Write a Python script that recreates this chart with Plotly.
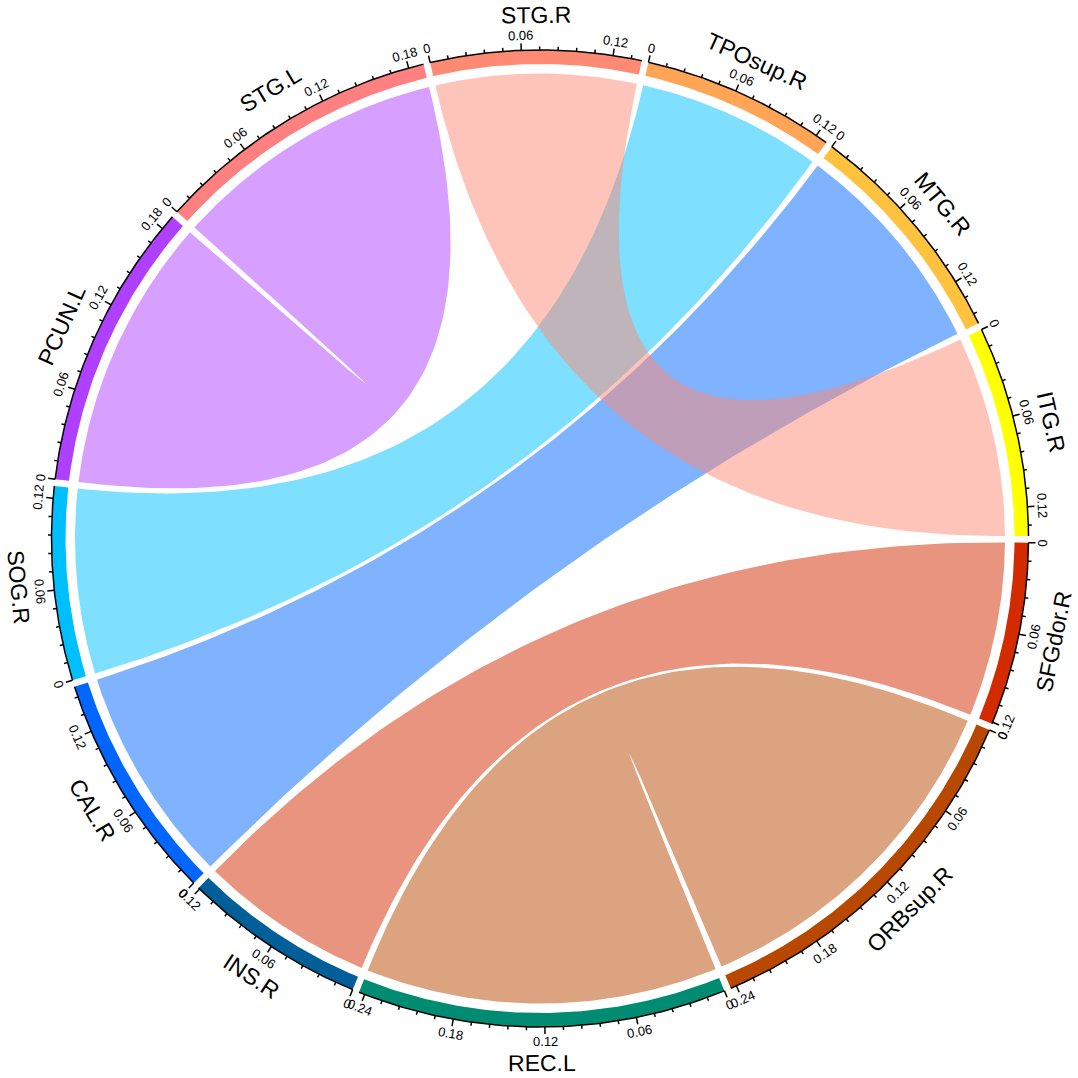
import numpy as np
import plotly.graph_objects as go

# sectors in clockwise order, starting at the top
SECTORS = ["STG.R", "TPOsup.R", "MTG.R", "ITG.R", "SFGdor.R", "ORBsup.R",
           "REC.L", "INS.R", "CAL.R", "SOG.R", "PCUN.L", "STG.L"]
SECTOR_COLORS = ["#FF8A73", "#FFA555", "#FFC23F", "#FFFF00", "#D42A00", "#B84800",
                 "#008C72", "#005F99", "#0066FF", "#00BFFF", "#B040FF", "#FF8080"]

# links, in drawing order
LINK_FROM = ["PCUN.L", "SOG.R", "CAL.R", "SFGdor.R", "ORBsup.R", "STG.R"]
LINK_TO = ["STG.L", "TPOsup.R", "MTG.R", "INS.R", "REC.L", "ITG.R"]
LINK_VALUES = [0.19, 0.128, 0.151, 0.121, 0.244, 0.139]

TICK_VALUES = [0, 0.06, 0.12, 0.18, 0.24]
TICK_LABELS = ["0", "0.06", "0.12", "0.18", "0.24"]
MINOR_STEP = 0.012

W = H = 1078
CX, CY = 540, 538.5
GAP_DEG = 0.8
START_DEG = -13.0
R_AXIS = 488.5
R_BAND_IN = 474.5
R_LINK = 465
R_TICKLAB = 503
R_NAME = 524
FONT = "Liberation Sans, Arial, sans-serif"


def xy(theta, r):
    t = np.radians(theta)
    return r * np.sin(t), r * np.cos(t)


def arc(t0, t1, r, n=80):
    th = np.linspace(t0, t1, n)
    return xy(th, r)


def bezier(t0, t1, r, n=80):
    # quadratic curve with its control point in the centre
    x0, y0 = xy(t0, r)
    x1, y1 = xy(t1, r)
    s = np.linspace(0, 1, n)
    return (1 - s) ** 2 * x0 + s ** 2 * x1, (1 - s) ** 2 * y0 + s ** 2 * y1


def rgba(hexcol, a):
    h = hexcol.lstrip("#")
    return "rgba(%d,%d,%d,%s)" % (int(h[0:2], 16), int(h[2:4], 16), int(h[4:6], 16), a)


def facing(theta):
    t = theta % 360
    if 90 < t < 270:
        return t - 180
    return t - 360 if t >= 270 else t


totals = {s: 0.0 for s in SECTORS}
for f, t, v in zip(LINK_FROM, LINK_TO, LINK_VALUES):
    totals[f] += v
    totals[t] += v

deg_per_unit = (360 - GAP_DEG * len(SECTORS)) / sum(totals.values())
ranges = {}
pos = START_DEG
for s in SECTORS:
    span = totals[s] * deg_per_unit
    ranges[s] = (pos, pos + span)
    pos += span + GAP_DEG

fig = go.Figure()

# sector bands
for s, col in zip(SECTORS, SECTOR_COLORS):
    a0, a1 = ranges[s]
    xo, yo = arc(a0, a1, R_AXIS)
    xi, yi = arc(a1, a0, R_BAND_IN)
    fig.add_trace(go.Scatter(x=np.r_[xo, xi], y=np.r_[yo, yi], mode="lines", fill="toself",
                             fillcolor=col, line=dict(width=0), hoverinfo="skip"))

# links
color_of = dict(zip(SECTORS, SECTOR_COLORS))
for f, t, v in zip(LINK_FROM, LINK_TO, LINK_VALUES):
    a0, a1 = ranges[f]
    b0, b1 = ranges[t]
    parts = [arc(a0, a1, R_LINK), bezier(a1, b0, R_LINK), arc(b0, b1, R_LINK), bezier(b1, a0, R_LINK)]
    xs = np.concatenate([p[0] for p in parts])
    ys = np.concatenate([p[1] for p in parts])
    fig.add_trace(go.Scatter(x=xs, y=ys, mode="lines", fill="toself",
                             fillcolor=rgba(color_of[f], 0.5), line=dict(width=0), hoverinfo="skip"))

# axes with ticks
ax_x, ax_y = [], []
annotations = []
for s in SECTORS:
    a0, a1 = ranges[s]
    x, y = arc(a0, a1, R_AXIS)
    ax_x += list(x) + [None]
    ax_y += list(y) + [None]
    n_minor = int(np.floor(totals[s] / MINOR_STEP + 1e-9))
    for k in range(n_minor + 1):
        th = a0 + k * MINOR_STEP * deg_per_unit
        length = 7 if k % 5 == 0 else 3.5
        x0, y0 = xy(th, R_AXIS)
        x1, y1 = xy(th, R_AXIS + length)
        ax_x += [x0, x1, None]
        ax_y += [y0, y1, None]

    for val, lab in zip(TICK_VALUES, TICK_LABELS):
        if val > totals[s] + 1e-9:
            continue
        th = a0 + val * deg_per_unit
        x, y = xy(th, R_TICKLAB)
        annotations.append(dict(x=x, y=y, text=lab, showarrow=False, textangle=facing(th),
                                xanchor="center", yanchor="middle",
                                font=dict(size=13, color="black", family=FONT)))

    mid = (a0 + a1) / 2
    x, y = xy(mid, R_NAME)
    annotations.append(dict(x=x, y=y, text=s, showarrow=False, textangle=facing(mid),
                            xanchor="center", yanchor="middle",
                            font=dict(size=23, color="black", family=FONT)))

fig.add_trace(go.Scatter(x=ax_x, y=ax_y, mode="lines", line=dict(color="black", width=1.5),
                         hoverinfo="skip"))

fig.update_layout(
    width=W,
    height=H,
    autosize=False,
    margin=dict(l=0, r=0, t=0, b=0, pad=0),
    paper_bgcolor="white",
    plot_bgcolor="white",
    showlegend=False,
    annotations=annotations,
    xaxis=dict(range=[-CX, W - CX], visible=False, fixedrange=True),
    yaxis=dict(range=[-(H - CY), CY], visible=False, fixedrange=True),
)

# drop the default body margin so the figure fills the window
fig.write_html("out.html", config={"displayModeBar": False},
               post_script="document.body.style.margin = '0';")
